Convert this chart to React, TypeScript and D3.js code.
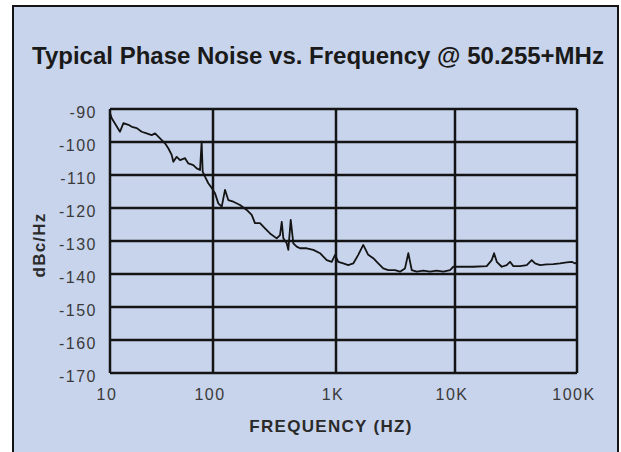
import React from "react";
import * as d3 from "d3";

// phase noise curve
const freqHz = [
  10, 10.4, 12.5, 13.5, 15.1, 16.3, 18.2, 20.3, 22.7, 25.4,
  27.4, 30.6, 34.2, 36.8, 39.7, 41.2, 44.4, 47.9, 53.5, 57.6,
  64.4, 69.5, 74.8, 77.6, 79.4, 83.6, 90, 97.1, 103.8, 110.4,
  117.8, 125.2, 133.1, 146.3, 165.9, 188, 206.4, 219.4, 241, 264.7,
  290.6, 329.6, 350.7, 362.2, 373.2, 397.5, 409.6, 428.5, 449.8, 479.1,
  509.7, 577.6, 653.8, 741.8, 840.9, 923.3, 982.5, 1045, 1151, 1267,
  1396, 1538, 1694, 1866, 2055, 2264, 2494, 2747, 3130, 3449,
  3800, 4053, 4329, 4768, 5417, 6166, 7018, 7988, 9081, 9683,
  11700, 14130, 18200, 20000, 20900, 22000, 24150, 26550, 28260, 30080,
  34130, 38720, 42560, 45300, 49800, 56500, 64000, 72600, 82400, 90600,
  96400, 100000,
];
const noiseDbc = [
  -91.2, -92.8, -96.9, -94.3, -94.8, -95.4, -95.8, -96.9, -97.4, -97.9,
  -97.4, -98.9, -100.4, -101.9, -103.9, -106.0, -104.5, -105.5, -104.9, -106.5,
  -107.0, -108.0, -108.5, -99.9, -109.0, -110.5, -112.5, -113.9, -115.5, -118.6,
  -119.6, -114.5, -117.6, -118.1, -119.1, -120.6, -122.1, -124.6, -124.6, -126.2,
  -127.7, -129.2, -128.2, -124.2, -129.2, -130.7, -132.7, -123.6, -130.7, -131.7,
  -132.2, -132.2, -132.7, -133.7, -135.8, -136.3, -134.2, -136.3, -136.8, -137.3,
  -136.8, -134.2, -131.2, -134.2, -135.2, -136.8, -138.3, -138.8, -138.8, -139.3,
  -138.3, -133.7, -138.8, -139.3, -139.0, -139.3, -139.0, -139.3, -138.8, -137.8,
  -137.8, -137.8, -137.6, -135.8, -133.7, -136.3, -137.8, -137.3, -136.3, -137.6,
  -137.6, -137.3, -135.8, -136.8, -137.3, -137.1, -137.0, -136.8, -136.5, -136.3,
  -136.8, -136.4,
];

const xTicks = [10, 100, 1000, 10000, 100000];
const xTickLabels = ["10", "100", "1K", "10K", "100K"];
const yTicks = [-90, -100, -110, -120, -130, -140, -150, -160, -170];

const W = 621;
const H = 452;
const font = "'Liberation Sans', Arial, Helvetica, sans-serif";
const ink = "#141414";

export default function App() {
  // the printed decades are not quite even, so the log scale is piecewise
  const x = d3.scaleLog().domain(xTicks).range([110, 213, 336, 455, 577]);
  const y = d3.scaleLinear().domain([-90, -170]).range([109, 373]);

  const pts = freqHz.map((f, i) => [f, noiseDbc[i]] as [number, number]);
  const line = d3
    .line<[number, number]>()
    .x((d) => x(d[0]))
    .y((d) => y(d[1]));

  const [x0, x1] = [x(10), x(100000)];
  const [y0, y1] = [y(-90), y(-170)];

  return (
    <svg
      width={W}
      height={H}
      style={{ position: "absolute", left: 0, top: 0, background: "#fff" }}
    >
      <rect x={13} y={6} width={605} height={470} fill="#c8d4ec" stroke={ink} strokeWidth={2} />

      <text x={318} y={64} textAnchor="middle" fontFamily={font} fontWeight="bold" fontSize={24} fill="#1a1a1a">
        Typical Phase Noise vs. Frequency @ 50.255+MHz
      </text>

      {/* grid */}
      {yTicks.map((t) => (
        <line key={"h" + t} x1={x0} x2={x1} y1={y(t)} y2={y(t)} stroke={ink} strokeWidth={2.5} />
      ))}
      {xTicks.map((t) => (
        <line key={"v" + t} x1={x(t)} x2={x(t)} y1={y0} y2={y1} stroke={ink} strokeWidth={2.5} />
      ))}

      <path d={line(pts) || ""} fill="none" stroke={ink} strokeWidth={1.8} strokeLinejoin="round" />

      {yTicks.map((t) => (
        <text key={"yl" + t} x={97} y={y(t) + 9} textAnchor="end" fontFamily={font} fontSize={16}
          letterSpacing={1.5} fill="#3a3a3a">
          {t}
        </text>
      ))}
      {xTicks.map((t, i) => (
        <text key={"xl" + t} x={x(t)} dx={-3} y={400} textAnchor="middle" fontFamily={font} fontSize={16}
          letterSpacing={1.5} fill="#3a3a3a">
          {xTickLabels[i]}
        </text>
      ))}

      <text x={331} y={432} textAnchor="middle" fontFamily={font} fontWeight="bold" fontSize={17}
        letterSpacing={1.3} fill="#2a2a2a">
        FREQUENCY (HZ)
      </text>
      <text
        transform="translate(45,245) rotate(-90)"
        textAnchor="middle"
        fontFamily={font}
        fontWeight="bold"
        fontSize={17}
        letterSpacing={1.2}
        fill="#2a2a2a"
      >
        dBc/Hz
      </text>
    </svg>
  );
}
